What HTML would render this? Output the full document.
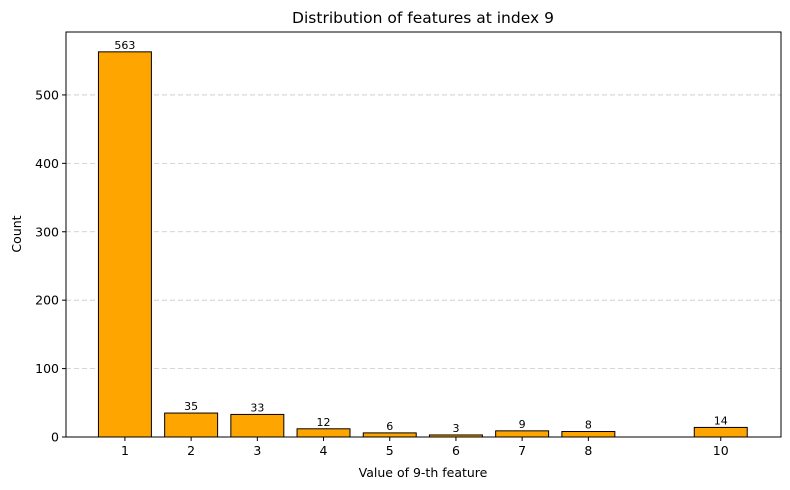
<!DOCTYPE html>
<html><head><meta charset="utf-8"><style>
body{margin:0;background:#fff;}
svg{display:block;font-family:"DejaVu Sans","Liberation Sans",sans-serif;}
</style></head><body>
<svg id="chart" width="790" height="490">
<rect width="790" height="490" fill="#fff"/>
<text x="423" y="23" font-size="15.5" text-anchor="middle">Distribution of features at index 9</text>
<g id="grid"></g>
<g id="bars"></g>
<g id="axes"></g>
<text x="423" y="477" font-size="12.5" text-anchor="middle">Value of 9-th feature</text>
<text x="21" y="234" font-size="12.5" text-anchor="middle" transform="rotate(-90 21 234)">Count</text>
</svg>
<script>
const categories=[1,2,3,4,5,6,7,8,10];
const counts=[563,35,33,12,6,3,9,8,14];
const yTicks=[0,100,200,300,400,500];
const L=66,R=781,T=32,B=437;
const xMin=0.11,xMax=10.91,yMax=592;
const x=v=>L+(v-xMin)/(xMax-xMin)*(R-L);
const y=v=>B-v/yMax*(B-T);
const NS="http://www.w3.org/2000/svg";
function mk(tag,attrs,parent){const e=document.createElementNS(NS,tag);for(const k in attrs)e.setAttribute(k,attrs[k]);parent.appendChild(e);return e;}
const grid=document.getElementById('grid'),bars=document.getElementById('bars'),axes=document.getElementById('axes');
yTicks.forEach(t=>{
 if(t>0){const g=mk('line',{x1:L,x2:R,y1:y(t),y2:y(t),stroke:'#c8c8c8','stroke-dasharray':'5,3','stroke-width':0.8},grid);
 
 }
 const tk=mk('line',{x1:L-4,x2:L,y1:y(t),y2:y(t),stroke:'#000'},axes);
 
 
 const tl=mk('text',{x:L-7,y:y(t)+4.5,'font-size':12.5,'text-anchor':'end'},axes);tl.textContent=t;
 
 
});
categories.forEach((c,i)=>{
 const w=x(c+0.4)-x(c-0.4);
 const b=mk('rect',{x:x(c-0.4),y:y(counts[i]),width:w,height:B-y(counts[i]),fill:'#ffa500',stroke:'#000','stroke-width':1},bars);
 
 
 const v=mk('text',{x:x(c),y:y(counts[i])-3,'font-size':11,'text-anchor':'middle'},bars);v.textContent=counts[i];
 
 
 const tk=mk('line',{x1:x(c),x2:x(c),y1:B,y2:B+4,stroke:'#000'},axes);
 
 
 const tl=mk('text',{x:x(c),y:B+18,'font-size':12.5,'text-anchor':'middle'},axes);tl.textContent=c;
 
 
});
const f=mk('rect',{x:L,y:T,width:R-L,height:B-T,fill:'none',stroke:'#000','stroke-width':1},axes);


</script>
</body></html>
